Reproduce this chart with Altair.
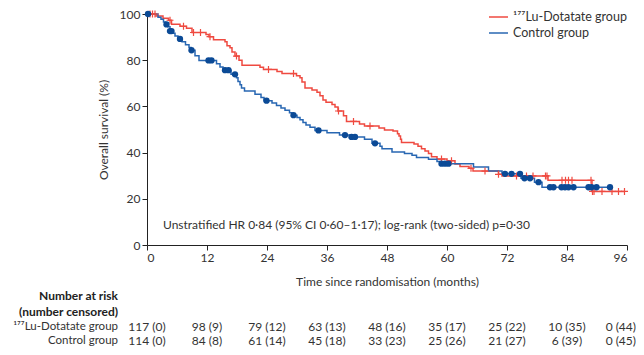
import altair as alt
import pandas as pd

LU = "¹⁷⁷Lu-Dotatate group"
CTRL = "Control group"
RED = "#ef4a40"
BLUE = "#2867b2"
DOT = "#0b4a96"
FONT = "Lato"

# Kaplan-Meier step change points (months, % surviving)
lu_time = [0, 1.8, 3.2, 4.3, 4.9, 6.6, 7.9, 9.0, 11.8, 12.4, 13.3, 15.6, 16.0, 16.6, 17.0, 17.6,
           18.4, 19.0, 22.6, 23.3, 26.0, 27.0, 29.9, 30.6, 31.0, 31.6, 33.0, 34.0, 34.6, 35.2,
           35.8, 37.0, 37.6, 38.2, 39.3, 39.9, 42.5, 43.5, 46.4, 47.5, 49.2, 50.1, 50.4, 50.7,
           50.9, 53.4, 54.2, 54.9, 55.6, 56.3, 56.9, 58.0, 60.0, 61.6, 62.6, 64.4, 65.2, 70.3,
           71.0, 80.2, 89.0, 95.6]
lu_surv = [100, 99.1, 98.2, 97.3, 95.6, 94.7, 93.8, 92.0, 91.1, 90.2, 88.9, 88.0, 86.3, 85.4, 83.6, 81.8,
           80.0, 77.8, 76.9, 76.0, 75.1, 74.2, 73.3, 72.4, 70.6, 68.0, 67.1, 66.1, 64.6, 62.8,
           61.8, 60.8, 59.7, 58.0, 56.0, 53.5, 52.4, 51.5, 50.7, 49.8, 49.3, 48.2, 47.2, 45.8,
           44.4, 43.7, 42.8, 41.7, 40.7, 39.6, 38.2, 37.2, 36.5, 35.1, 34.0, 33.2, 32.0, 30.6,
           29.9, 28.0, 23.2, 23.2]

ctrl_time = [0, 2.2, 2.8, 3.3, 3.7, 4.2, 4.6, 5.0, 5.6, 6.2, 7.0, 7.7, 8.4, 8.8, 9.6, 10.4, 13.9,
             14.6, 15.2, 16.8, 17.9, 18.2, 18.6, 18.9, 19.5, 21.6, 22.8, 23.4, 25.0, 25.9, 26.8,
             27.6, 28.5, 29.0, 30.0, 30.6, 31.2, 31.8, 32.6, 33.6, 36.0, 38.5, 40.5, 43.5, 45.0,
             46.6, 47.0, 49.0, 51.5, 53.0, 53.9, 56.3, 58.0, 58.6, 65.3, 68.3, 71.0, 74.8, 77.5,
             79.0, 92.9]
ctrl_surv = [100, 98.6, 97.7, 96.5, 95.5, 94.5, 92.6, 91.7, 90.5, 89.2, 88.0, 86.7, 85.5, 84.3, 81.9, 79.9, 78.5,
             77.1, 75.7, 73.9, 72.4, 70.8, 69.4, 68.0, 66.7, 65.3, 63.9, 62.5, 61.5, 60.4, 59.3,
             58.3, 57.2, 56.2, 55.2, 54.2, 53.0, 52.0, 51.0, 49.6, 48.6, 47.6, 46.8, 45.8, 44.0,
             42.8, 41.7, 40.3, 39.6, 38.8, 37.9, 37.1, 36.1, 35.2, 33.8, 32.0, 30.8, 28.9, 27.2,
             25.0, 25.0]

# censoring times (months)
lu_cens = [0.6, 1.1, 1.6, 4.6, 7.3, 9.3, 10.7, 12.6, 17.9, 24.3, 29.3, 38.3, 41.3, 44.6, 58.9,
           60.9, 64.8, 67.6, 70.3, 73.9, 75.9, 77.2, 79.7, 80.0, 83.0, 83.7, 84.3, 85.0, 88.8,
           89.1, 89.4, 91.0, 93.0, 94.3, 95.5]
ctrl_cens = [0.2, 3.9, 4.6, 4.9, 6.6, 8.9, 12.3, 12.9, 15.6, 16.3, 17.6, 23.9, 29.3, 34.3, 39.6,
             40.9, 41.6, 45.6, 58.9, 59.6, 60.3, 71.6, 72.9, 74.6, 75.5, 76.6, 78.3, 80.6, 81.3,
             82.9, 83.6, 84.3, 85.3, 88.3, 88.9, 89.9, 92.6]

risk_times = [0, 12, 24, 36, 48, 60, 72, 84, 96]
lu_risk = ["117 (0)", "98 (9)", "79 (12)", "63 (13)", "48 (16)", "35 (17)", "25 (22)", "10 (35)", "0 (44)"]
ctrl_risk = ["114 (0)", "84 (8)", "61 (14)", "45 (18)", "33 (23)", "25 (26)", "21 (27)", "6 (39)", "0 (45)"]

annotation = "Unstratified HR 0·84 (95% CI 0·60–1·17); log-rank (two-sided) p=0·30"


def surv_at(times, survs, t):
    s = survs[0]
    for ti, si in zip(times, survs):
        if ti <= t:
            s = si
    return s


curve = pd.concat([
    pd.DataFrame({"time": lu_time, "surv": lu_surv, "group": LU}),
    pd.DataFrame({"time": ctrl_time, "surv": ctrl_surv, "group": CTRL}),
])
lu_c = pd.DataFrame({"time": lu_cens, "surv": [surv_at(lu_time, lu_surv, t) for t in lu_cens]})
ctrl_c = pd.DataFrame({"time": ctrl_cens, "surv": [surv_at(ctrl_time, ctrl_surv, t) for t in ctrl_cens]})
lu_tab = pd.DataFrame({"time": risk_times, "label": lu_risk})
ctrl_tab = pd.DataFrame({"time": risk_times, "label": ctrl_risk})

xscale = alt.Scale(domain=[0, 96], nice=False)
yscale = alt.Scale(domain=[0, 100], nice=False)
X = alt.X("time:Q", scale=xscale,
          axis=alt.Axis(values=risk_times, title="Time since randomisation (months)", titlePadding=13))
Y = alt.Y("surv:Q", scale=yscale,
          axis=alt.Axis(values=[0, 20, 40, 60, 80, 100], title="Overall survival (%)", titlePadding=9))

lines = alt.Chart(curve).mark_line(interpolate="step-after", strokeWidth=1.5).encode(
    x=X, y=Y,
    color=alt.Color("group:N", scale=alt.Scale(domain=[LU, CTRL], range=[RED, BLUE]), legend=None),
    detail="group:N",
)

plus = alt.Chart(lu_c).mark_point(
    shape="M -1 0 L 1 0 M 0 -1 L 0 1", size=49, filled=False, strokeWidth=1.2, color=RED, opacity=1
).encode(x="time:Q", y="surv:Q")

dots = alt.Chart(ctrl_c).mark_circle(size=40, color=DOT, opacity=1).encode(x="time:Q", y="surv:Q")

# legend
leg = []
for i, (name, col) in enumerate([(LU, RED), (CTRL, BLUE)]):
    yy = 3 + 16 * i
    leg.append(alt.Chart(pd.DataFrame({"a": [0]})).mark_rule(color=col, strokeWidth=1.5).encode(
        x=alt.value(342), x2=alt.value(361), y=alt.value(yy)))
    leg.append(alt.Chart(pd.DataFrame({"a": [0]})).mark_text(
        align="left", baseline="middle", font=FONT, fontSize=12.5, color="#333").encode(
        x=alt.value(366), y=alt.value(yy), text=alt.value(name)))

note = alt.Chart(pd.DataFrame({"a": [0]})).mark_text(
    align="left", baseline="middle", font=FONT, fontSize=12, color="#333").encode(
    x=alt.value(16), y=alt.value(211), text=alt.value(annotation))

tab_style = dict(baseline="middle", font=FONT, fontSize=12, color="#333")
ROW1, ROW2 = 313, 327
table_layers = []
for df, yy in [(lu_tab, ROW1), (ctrl_tab, ROW2)]:
    inner = df[df["time"] < 96]
    last = df[df["time"] == 96]
    table_layers.append(alt.Chart(inner).mark_text(align="center", **tab_style).encode(
        x="time:Q", y=alt.value(yy), text="label:N"))
    table_layers.append(alt.Chart(last).mark_text(align="right", dx=9, **tab_style).encode(
        x="time:Q", y=alt.value(yy), text="label:N"))

row_labels = []
for txt, yy, bold in [("Number at risk", 282, True), ("(number censored)", 298, True),
                      (LU, ROW1, False), (CTRL, ROW2, False)]:
    row_labels.append(alt.Chart(pd.DataFrame({"a": [0]})).mark_text(
        align="right", baseline="middle", font=FONT, fontSize=12 if bold else 11.5,
        fontWeight="bold" if bold else "normal", color="#222" if bold else "#333").encode(
        x=alt.value(-29), y=alt.value(yy), text=alt.value(txt)))

chart = alt.layer(lines, plus, dots, note, *table_layers, *leg, *row_labels).properties(
    width=480, height=231,
    autosize=alt.AutoSizeParams(type="none"),
    padding={"left": 139, "top": 6, "right": 9, "bottom": 102},
).configure_view(stroke=None).configure_axis(
    grid=False, domainColor="#222", tickColor="#222", tickSize=5, labelPadding=2,
    labelFont=FONT, labelFontSize=12, labelColor="#333",
    titleFont=FONT, titleFontSize=12, titleFontWeight="normal", titleColor="#333",
)

chart.save("out.html", embed_options={"renderer": "svg", "actions": False})
